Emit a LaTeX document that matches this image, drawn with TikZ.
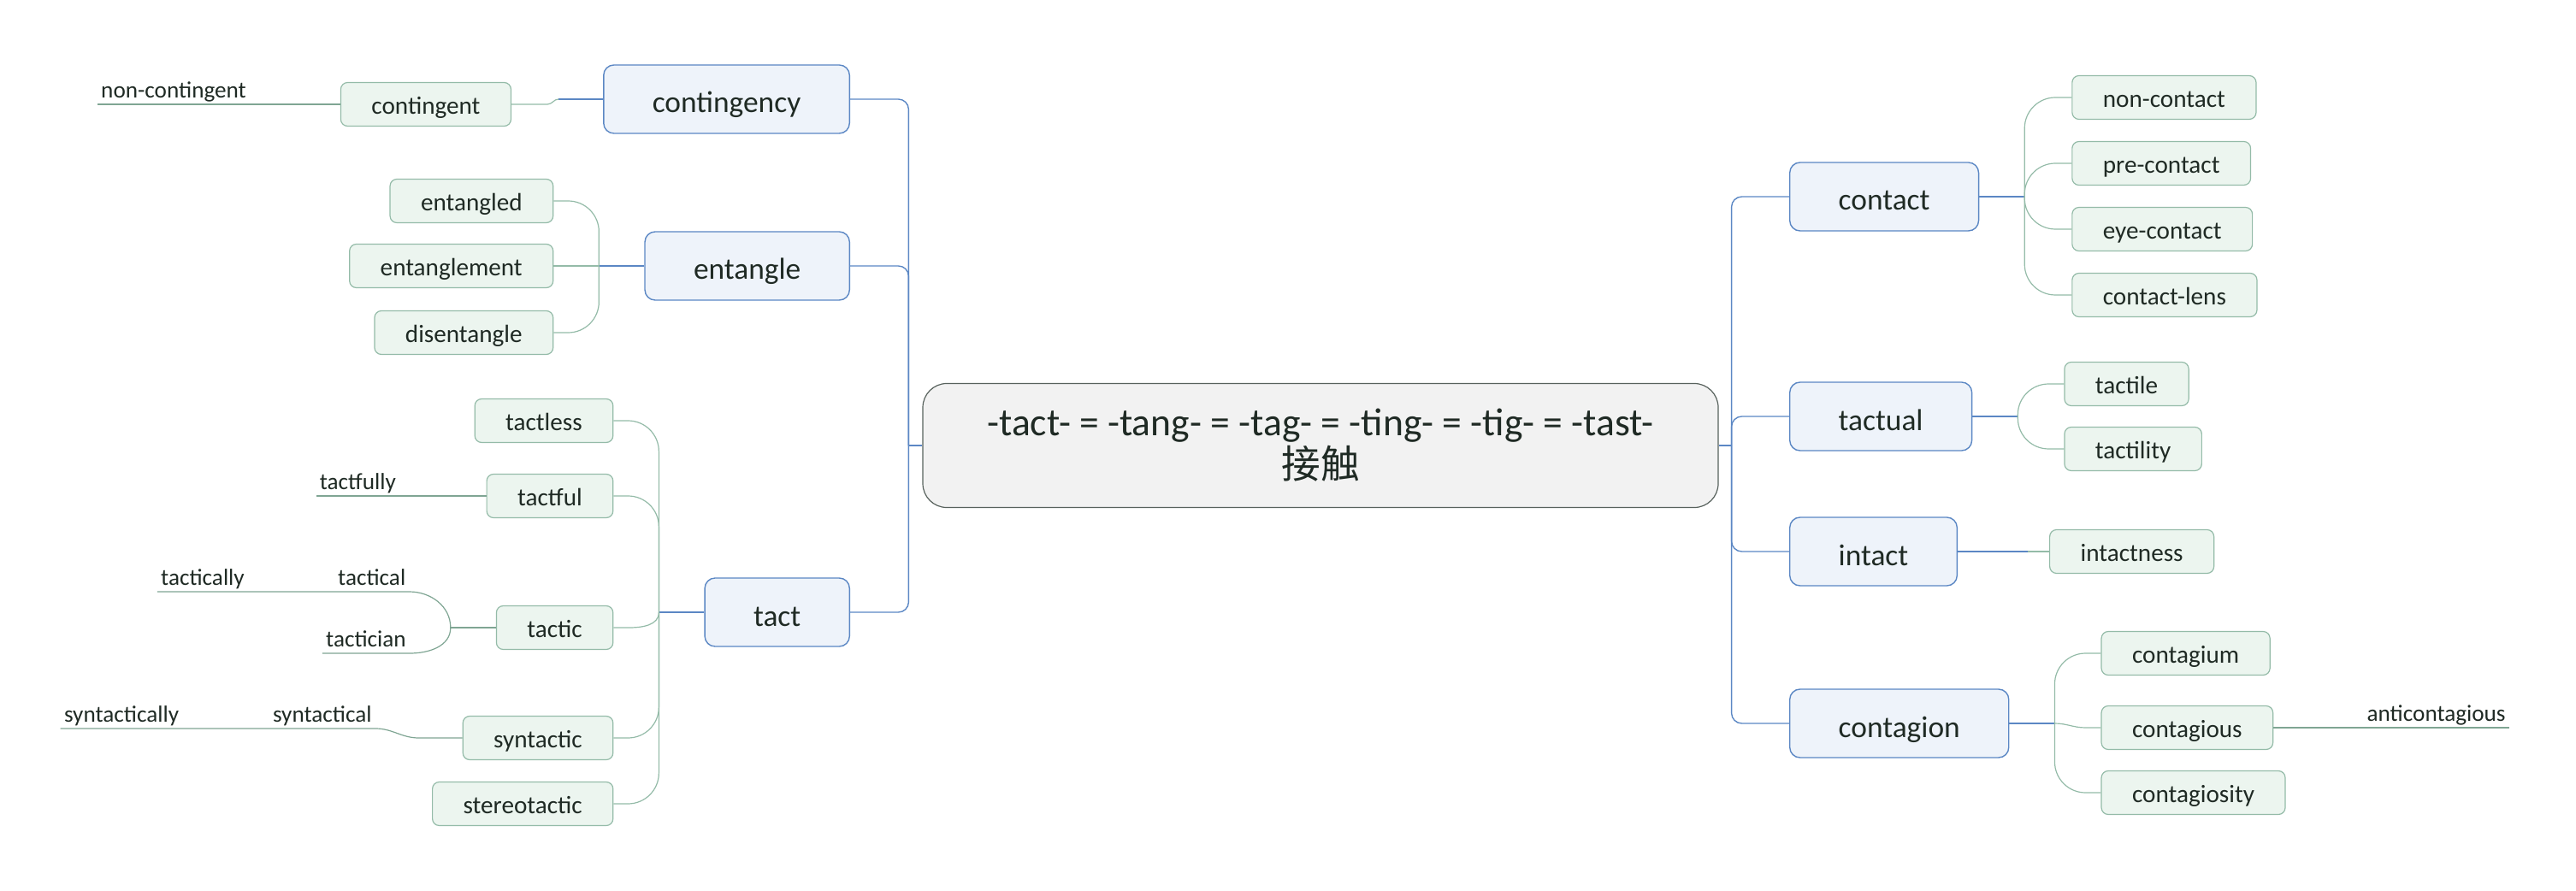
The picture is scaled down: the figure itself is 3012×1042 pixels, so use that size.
\documentclass[tikz,border=0pt]{standalone}
\usepackage{fontspec}
\setmainfont{Carlito}
\newfontfamily\cjkfont{Noto Sans CJK SC}
\usetikzlibrary{positioning}
\definecolor{rootfill}{HTML}{F2F2F2}
\definecolor{rootdraw}{HTML}{58625D}
\definecolor{mainfill}{HTML}{EEF3FA}
\definecolor{maindraw}{HTML}{5B87C4}
\definecolor{subfill}{HTML}{ECF5EF}
\definecolor{subdraw}{HTML}{94BBA8}
\definecolor{leafdraw}{HTML}{7FA593}
\definecolor{textcol}{HTML}{1F2A24}
\tikzset{
  rootbox/.style={
    draw=rootdraw, fill=rootfill, rounded corners=14pt, line width=0.6pt,
    minimum width=465pt, minimum height=72.5pt, align=center, text=textcol,
    font=\fontsize{22.8}{25}\selectfont
  },
  mainbox/.style={
    draw=maindraw, fill=mainfill, rounded corners=6pt, line width=0.7pt,
    inner xsep=28.5pt, minimum height=40pt, text height=16pt, text depth=0pt,
    text=textcol, font=\fontsize{17.7}{21}\selectfont
  },
  subbox/.style={
    draw=subdraw, fill=subfill, rounded corners=4pt, line width=0.6pt,
    inner xsep=18pt, minimum height=25.5pt, text height=12.5pt, text depth=1pt,
    text=textcol, font=\fontsize{14.6}{17}\selectfont
  },
  leaf/.style={
    inner xsep=2pt, inner ysep=1.5pt, text height=9.5pt, text depth=2pt,
    text=textcol, font=\fontsize{13.6}{16}\selectfont
  },
  mainlink/.style={draw=maindraw, line width=0.7pt, rounded corners=6pt},
  sublink/.style={draw=subdraw, line width=0.6pt, rounded corners=18pt},
  leaflink/.style={draw=leafdraw, line width=0.6pt}
}

\begin{document}
\begin{tikzpicture}[x=0.5pt, y=-0.5pt]
\useasboundingbox (0,0) rectangle (3012,1042);

% Centre
\node[rootbox] (root) at (1544,521) {-tact- = -tang- = -tag- = -ting- = -tig- = -tast-\\{\cjkfont 接触}};
\coordinate (leftjoin) at ([xshift=-8pt]root.west);
\coordinate (rightjoin) at ([xshift=7.5pt]root.east);

% Left branches
\node[mainbox, anchor=east] (contingency) at (994,116) {contingency};
\node[mainbox, anchor=east] (entangle) at (994,311) {entangle};
\node[mainbox, anchor=east] (tact) at (994,716) {tact};

% Right branches
\node[mainbox, anchor=west] (contact) at (2092,230) {contact};
\node[mainbox, anchor=west] (tactual) at (2092,487) {tactual};
\node[mainbox, anchor=west] (intact) at (2092,645) {intact};
\node[mainbox, anchor=west] (contagion) at (2092,846) {contagion};

% Children (left)
\node[subbox, left=53.5pt of contingency, yshift=-3pt] (contingent) {contingent};
\node[subbox, left=53pt of entangle, yshift=38pt] (entangled) {entangled};
\node[subbox, left=53pt of entangle] (entanglement) {entanglement};
\node[subbox, left=53pt of entangle, yshift=-39pt] (disentangle) {disentangle};
\node[subbox, left=53pt of tact, yshift=112pt] (tactless) {tactless};
\node[subbox, left=53pt of tact, yshift=68pt] (tactful) {tactful};
\node[subbox, left=53pt of tact, yshift=-9pt] (tactic) {tactic};
\node[subbox, left=53pt of tact, yshift=-73.5pt] (syntactic) {syntactic};
\node[subbox, left=53pt of tact, yshift=-112pt] (stereotactic) {stereotactic};

% Children (right)
\node[subbox, right=54pt of contact, yshift=58pt] (noncontact) {non-contact};
\node[subbox, right=54pt of contact, yshift=19.5pt] (precontact) {pre-contact};
\node[subbox, right=54pt of contact, yshift=-19pt] (eyecontact) {eye-contact};
\node[subbox, right=54pt of contact, yshift=-57.5pt] (contactlens) {contact-lens};
\node[subbox, right=53.5pt of tactual, yshift=19pt] (tactile) {tactile};
\node[subbox, right=53.5pt of tactual, yshift=-19pt] (tactility) {tactility};
\node[subbox, right=53.5pt of intact] (intactness) {intactness};
\node[subbox, right=53.5pt of contagion, yshift=41pt] (contagium) {contagium};
\node[subbox, right=53.5pt of contagion, yshift=-2.5pt] (contagious) {contagious};
\node[subbox, right=53.5pt of contagion, yshift=-40.5pt] (contagiosity) {contagiosity};

% Leaves
\node[leaf, anchor=south west] (noncontingent) at ([xshift=-142pt]contingent.west) {non-contingent};
\node[leaf, anchor=south west] (tactfully) at ([xshift=-99.5pt]tactful.west) {tactfully};
\node[leaf, anchor=south west] (tactical) at ([xshift=-94.5pt, yshift=21pt]tactic.west) {tactical};
\node[leaf, anchor=south west] (tactically) at ([xshift=-103.5pt]tactical.south west) {tactically};
\node[leaf, anchor=south west] (tactician) at ([xshift=-101.5pt, yshift=-15pt]tactic.west) {tactician};
\node[leaf, anchor=south west] (syntactical) at ([xshift=-113pt, yshift=5.5pt]syntactic.west) {syntactical};
\node[leaf, anchor=south west] (syntactically) at ([xshift=-122pt]syntactical.south west) {syntactically};
\node[leaf, anchor=south west] (anticontagious) at ([xshift=52.5pt]contagious.east) {anticontagious};

% Main links
\draw[mainlink, line width=1.2pt] (root.west) -- (leftjoin);
\draw[mainlink, line width=1.2pt] (root.east) -- (rightjoin);
\draw[mainlink] (leftjoin) |- (contingency.east);
\draw[mainlink] (leftjoin) |- (entangle.east);
\draw[mainlink] (leftjoin) |- (tact.east);
\draw[mainlink] (rightjoin) |- (contact.west);
\draw[mainlink] (rightjoin) |- (tactual.west);
\draw[mainlink] (rightjoin) |- (intact.west);
\draw[mainlink] (rightjoin) |- (contagion.west);

% Sub links (left)
\draw[mainlink, sharp corners] (contingency.west) -- ++(-26pt,0) coordinate (contingencyjoin);
\draw[sublink, sharp corners] (contingencyjoin) to[out=180, in=0] ([xshift=21pt]contingent.east) -- (contingent.east);
\coordinate (entanglejoin) at ([xshift=-26.5pt]entangle.west);
\draw[mainlink] (entangle.west) -- (entanglejoin);
\draw[sublink] (entanglejoin) |- (entangled.east);
\draw[sublink] (entanglejoin) -- (entanglement.east);
\draw[sublink] (entanglejoin) |- (disentangle.east);
\coordinate (tactjoin) at ([xshift=-26.5pt]tact.west);
\draw[mainlink] (tact.west) -- (tactjoin);
\draw[sublink] (tactjoin) |- (tactless.east);
\draw[sublink] (tactjoin) |- (tactful.east);
\draw[sublink, sharp corners] (tactjoin) to[out=-90, in=0] ([xshift=9pt]tactic.east) -- (tactic.east);
\draw[sublink] (tactjoin) |- (syntactic.east);
\draw[sublink] (tactjoin) |- (stereotactic.east);

% Sub links (right)
\coordinate (contactjoin) at ([xshift=26.5pt]contact.east);
\draw[mainlink] (contact.east) -- (contactjoin);
\draw[sublink] (contactjoin) |- (noncontact.west);
\draw[sublink] (contactjoin) |- (precontact.west);
\draw[sublink] (contactjoin) |- (eyecontact.west);
\draw[sublink] (contactjoin) |- (contactlens.west);
\coordinate (tactualjoin) at ([xshift=26.5pt]tactual.east);
\draw[mainlink] (tactual.east) -- (tactualjoin);
\draw[sublink] (tactualjoin) |- (tactile.west);
\draw[sublink] (tactualjoin) |- (tactility.west);
\draw[mainlink] (intact.east) -- ++(41pt,0) coordinate (intactjoin);
\draw[sublink] (intactjoin) -- (intactness.west);
\coordinate (contagionjoin) at ([xshift=26.5pt]contagion.east);
\draw[mainlink] (contagion.east) -- (contagionjoin);
\draw[sublink] (contagionjoin) |- (contagium.west);
\draw[sublink, sharp corners] (contagionjoin) to[out=0, in=180] ([xshift=-9pt]contagious.west) -- (contagious.west);
\draw[sublink] (contagionjoin) |- (contagiosity.west);

% Leaf links
\draw[leaflink] (contingent.west) -- (noncontingent.south east) -- (noncontingent.south west);
\draw[leaflink] (tactful.west) -- (tactfully.south east) -- (tactfully.south west);
\draw[leaflink] (tactic.west) -- ++(-26.5pt,0) coordinate (tacticjoin);
\draw[leaflink] (tacticjoin) to[out=90, in=0] (tactical.south east) -- (tactical.south west) -- (tactically.south east) -- (tactically.south west);
\draw[leaflink] (tacticjoin) to[out=-90, in=0] (tactician.south east) -- (tactician.south west);
\draw[leaflink] (syntactic.west) -- ++(-25.5pt,0) to[out=180, in=0] (syntactical.south east) -- (syntactical.south west) -- (syntactically.south east) -- (syntactically.south west);
\draw[leaflink] (contagious.east) -- (anticontagious.south west) -- (anticontagious.south east);

\end{tikzpicture}
\end{document}
